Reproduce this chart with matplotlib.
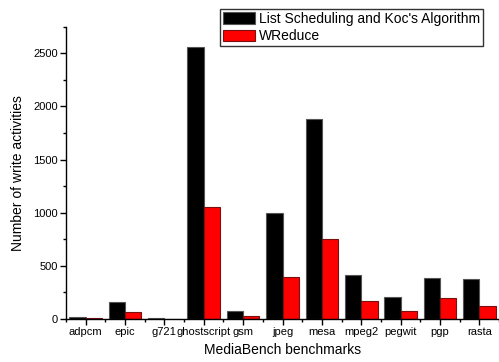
import matplotlib
matplotlib.use("Agg")
import matplotlib.pyplot as plt
from matplotlib.ticker import MultipleLocator, FixedLocator
import numpy as np

plt.rcParams['font.family'] = ['Liberation Sans', 'DejaVu Sans']

benchmarks = ["adpcm", "epic", "g721", "ghostscript", "gsm", "jpeg",
              "mesa", "mpeg2", "pegwit", "pgp", "rasta"]
list_sched_koc = [19, 162, 6, 2560, 72, 1000, 1880, 410, 203, 384, 378]
wreduce = [12, 69, 4, 1050, 24, 396, 756, 166, 75, 194, 119]
series_names = ["List Scheduling and Koc's Algorithm", "WReduce"]

fig = plt.figure(figsize=(4.99, 3.62), dpi=100)
ax = fig.add_axes([66 / 499, 43 / 362, 433 / 499, 292.3 / 362])

x = np.arange(1, len(benchmarks) + 1)
w = 0.414
ax.bar(x - w / 2, list_sched_koc, width=w, color="black", edgecolor="#555555",
       linewidth=0.8, label=series_names[0])
ax.bar(x + w / 2, wreduce, width=w, color="#ff0000", edgecolor="#7a1010",
       linewidth=0.8, label=series_names[1])

ax.set_xlim(0.5, 11.5)
ax.set_ylim(0, 2750)

ax.spines['top'].set_visible(False)
ax.spines['right'].set_visible(False)
for s in ('left', 'bottom'):
    ax.spines[s].set_linewidth(1.0)

ax.set_xticks(x)
ax.set_xticklabels(benchmarks, fontsize=8)
ax.xaxis.set_minor_locator(FixedLocator(np.arange(0.5, 12, 1.0)))
ax.yaxis.set_major_locator(MultipleLocator(500))
ax.yaxis.set_minor_locator(MultipleLocator(250))
ax.tick_params(axis='both', which='major', direction='out', length=4, width=1,
               labelsize=8, pad=2)
ax.tick_params(axis='both', which='minor', direction='out', length=2.5, width=1)

ax.set_xlabel("MediaBench benchmarks", fontsize=10, labelpad=4)
ax.set_ylabel("Number of write activities", fontsize=10, labelpad=6)

leg = fig.legend(loc='upper left', bbox_to_anchor=(220 / 499, 1 - 9 / 362),
                 fontsize=10, frameon=True, fancybox=False, borderpad=0.2,
                 handlelength=2.3, handleheight=0.86, handletextpad=0.3,
                 labelspacing=0.25, borderaxespad=0)
leg.get_frame().set_edgecolor("black")
leg.get_frame().set_linewidth(1.0)

fig.savefig("out.png", dpi=100)
